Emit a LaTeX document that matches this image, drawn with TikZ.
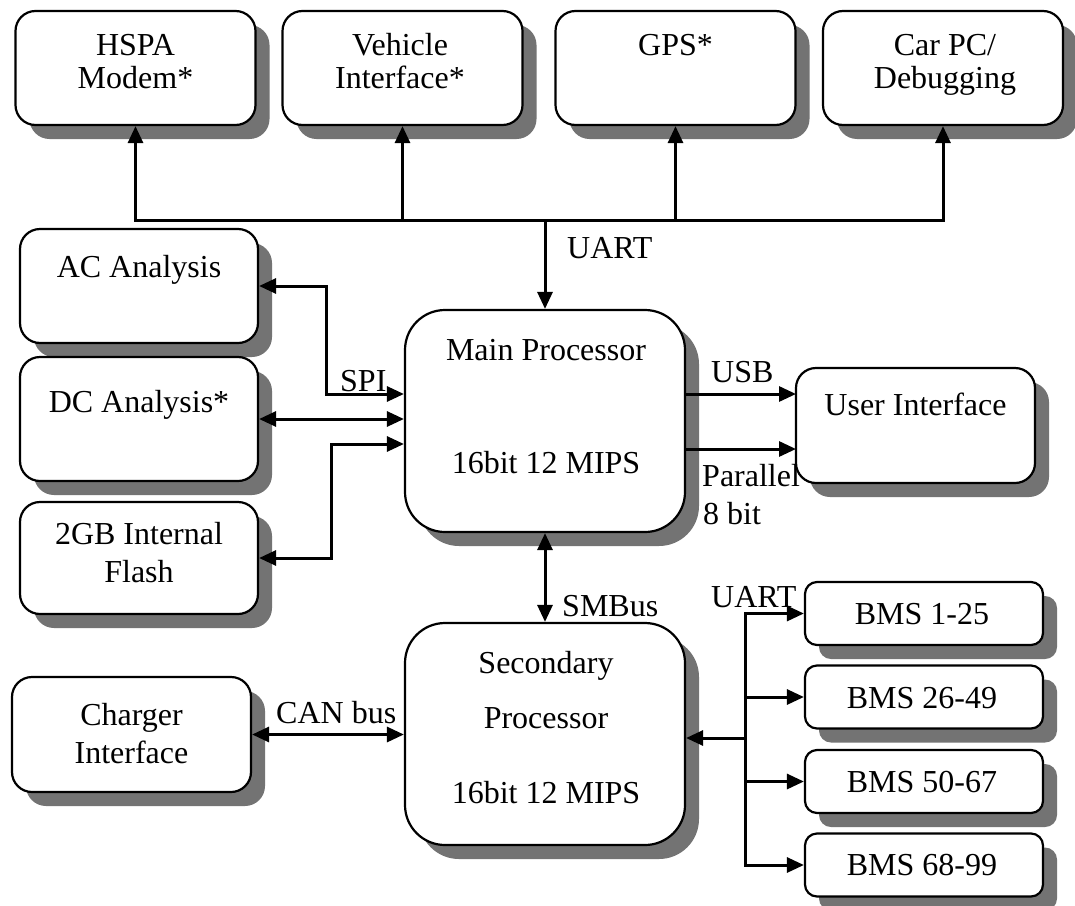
\documentclass[tikz,border=0pt]{standalone}
\usepackage{fontspec}
\setmainfont{Liberation Serif}
\usetikzlibrary{arrows.meta,shadows}
\begin{document}
\begin{tikzpicture}[x=1pt,y=-1pt,
  box/.style={draw, line width=2.2pt, fill=white, rounded corners=20pt, inner sep=0pt,
    drop shadow={shadow xshift=14pt, shadow yshift=-14pt, fill=black!55, opacity=1}},
  bigbox/.style={box, rounded corners=40pt},
  bmsbox/.style={box, rounded corners=12pt, minimum width=238pt, minimum height=63pt},
  txt/.style={font=\fontsize{32pt}{36pt}\selectfont, anchor=base, inner sep=0pt},
  lbl/.style={txt, anchor=base west},
  tip/.tip={Triangle[length=17pt,width=15pt]},
  arr/.style={line width=3pt, -tip},
  dbl/.style={line width=3pt, tip-tip}]
\useasboundingbox[fill=white] (0,0) rectangle (1075,905);

% ---- boxes ----
\node[box, minimum width=240pt, minimum height=114pt] (hspa) at (135.5,68) {};
\node[box, minimum width=240pt, minimum height=114pt] (veh)  at (402.5,68) {};
\node[box, minimum width=240pt, minimum height=114pt] (gps)  at (675.5,68) {};
\node[box, minimum width=240pt, minimum height=114pt] (car)  at (943,68) {};

\node[box, minimum width=238pt, minimum height=114pt] (ac)    at (139,286) {};
\node[box, minimum width=238pt, minimum height=124pt] (dc)    at (139,419) {};
\node[box, minimum width=238pt, minimum height=112pt] (flash) at (139,558) {};

\node[bigbox, minimum width=280pt, minimum height=222pt] (main) at (545,421) {};
\node[box, minimum width=239pt, minimum height=115pt] (ui) at (915.5,425.5) {};

\node[bigbox, minimum width=280pt, minimum height=222pt] (sec) at (545,734) {};
\node[box, minimum width=239pt, minimum height=115pt] (chg) at (131.5,734.5) {};

\node[bmsbox] (b1) at (924,613.5) {};
\node[bmsbox] (b2) at (924,697) {};
\node[bmsbox] (b3) at (924,781.5) {};
\node[bmsbox] (b4) at (924,865) {};

% ---- box texts ----
\node[txt] (hspaT1) at (135.5,55) {HSPA};
\node[txt] (hspaT2) at (135.5,88) {Modem*};
\node[txt] (vehT1) at (400,55) {Vehicle};
\node[txt] (vehT2) at (400,88) {Interface*};
\node[txt] (gpsT) at (675.5,55) {GPS*};
\node[txt] (carT1) at (945,55) {Car PC/};
\node[txt] (carT2) at (945,88) {Debugging};

\node[txt] (acT) at (139,277) {AC Analysis};
\node[txt] (dcT) at (139,412) {DC Analysis*};
\node[txt] (flT1) at (139,544) {2GB Internal};
\node[txt] (flT2) at (139,582) {Flash};

\node[txt] (mainT1) at (546,360) {Main Processor};
\node[txt] (mainT2) at (546,473) {16bit 12 MIPS};
\node[txt] (uiT) at (915.5,415) {User Interface};

\node[txt] (secT1) at (546,673) {Secondary};
\node[txt] (secT2) at (546,728) {Processor};
\node[txt] (secT3) at (546,803) {16bit 12 MIPS};
\node[txt] (chgT1) at (131.5,725) {Charger};
\node[txt] (chgT2) at (131.5,763) {Interface};

\node[txt] (b1T) at (922,624) {BMS 1-25};
\node[txt] (b2T) at (922,708) {BMS 26-49};
\node[txt] (b3T) at (922,792) {BMS 50-67};
\node[txt] (b4T) at (922,875) {BMS 68-99};

% ---- connectors ----
\coordinate (bus) at (545,220);
\draw[arr] (bus) -- (main.north);
\draw[arr] (bus) -| (hspa.south);
\draw[arr] (bus) -| (veh.south);
\draw[arr] (bus) -| (gps.south);
\draw[arr] (bus) -| (car.south);

\coordinate (spiA) at (326,394);
\coordinate (flA) at (331,444);
\draw[dbl] (ac.east) -| (spiA) -- (spiA -| main.west);
\draw[dbl] (dc.east) -- (dc.east -| main.west);
\draw[dbl] (flash.east) -| (flA) -- (flA -| main.west);

\draw[arr] (685,394) -- (796,394);
\draw[arr] (685,449) -- (796,449);

\draw[dbl] (main.south) -- (sec.north);
\draw[dbl] (chg.east) -- (chg.east -| sec.west);

\coordinate (bmsJ) at (745,738);
\draw[arr] (bmsJ) -- (bmsJ -| sec.east);
\draw[arr] (bmsJ) |- (b1.west);
\draw[arr] (bmsJ) |- (b2.west);
\draw[arr] (bmsJ) |- (b3.west);
\draw[arr] (bmsJ) |- (b4.west);

% ---- connector labels ----
\node[lbl] (uartT) at (567,258) {UART};
\node[lbl] (spiT) at (340,391) {SPI};
\node[lbl] (usbT) at (711,382) {USB};
\node[lbl] (parT1) at (702,486) {Parallel};
\node[lbl] (parT2) at (703,524) {8 bit};
\node[lbl] (smbT) at (562,616) {SMBus};
\node[lbl] (uart2T) at (711,607) {UART};
\node[lbl] (canT) at (276,723) {CAN bus};
\end{tikzpicture}
\end{document}
